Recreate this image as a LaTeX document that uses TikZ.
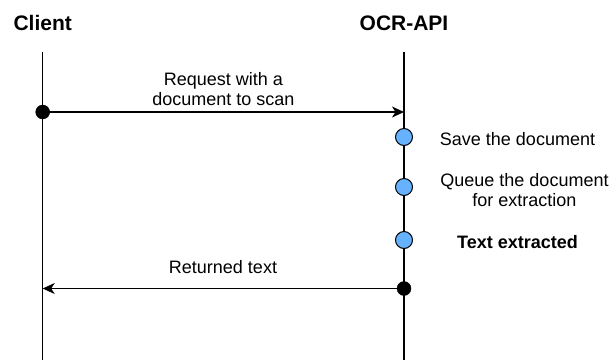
\documentclass[tikz,border=0pt]{standalone}
\usepackage{fontspec}
\setmainfont{Liberation Sans}
\usetikzlibrary{arrows.meta}
\definecolor{stepblue}{HTML}{66B2FF}
\begin{document}
\begin{tikzpicture}[x=1pt,y=-1pt,
  lifeline/.style={line width=1.2pt,black},
  msg/.style={line width=1.3pt,-{Stealth[length=12pt,width=11pt,inset=3.5pt]}},
  actor/.style={font=\fontsize{21}{24}\selectfont\bfseries,inner sep=0pt,anchor=base},
  lbl/.style={font=\fontsize{18}{19.5}\selectfont,inner sep=0pt,align=center},
  startdot/.style={circle,fill=black,draw=black,inner sep=0pt,minimum size=14pt},
  stepdot/.style={circle,fill=stepblue,draw=black,line width=1pt,inner sep=0pt,minimum size=17pt}]
  \useasboundingbox (0,0) rectangle (614,360);

  % participants
  \node[actor] (client) at (42.7,30) {Client};
  \node[actor] (ocr) at (404,30) {OCR-API};

  % lifelines
  \coordinate (cTop) at (42.7,52);
  \coordinate (cBot) at (42.7,360);
  \coordinate (oTop) at (404,52);
  \coordinate (oBot) at (404,360);
  \draw[lifeline] (cTop) -- (cBot);
  \draw[lifeline] (oTop) -- (oBot);

  % request
  \node[startdot] (reqdot) at (42.7,112) {};
  \coordinate (reqend) at (404,112);
  \draw[msg] (reqdot.center) -- (reqend);
  \node[lbl] (reqlbl) at (223.4,89) {Request with a\\document to scan};

  % processing steps
  \node[stepdot] (s1) at (404,137) {};
  \node[stepdot] (s2) at (404,187) {};
  \node[stepdot] (s3) at (404,240) {};
  \node[lbl,anchor=base] (t1) at (517.5,145) {Save the document};
  \node[lbl] (t2) at (524.5,190) {Queue the document\\for extraction};
  \node[lbl,anchor=base,font=\fontsize{18}{19.5}\selectfont\bfseries] (t3) at (517.5,248) {Text extracted};

  % response
  \node[startdot] (retdot) at (404,288.5) {};
  \coordinate (retend) at (42.7,288.5);
  \draw[msg] (retdot.center) -- (retend);
  \node[lbl,anchor=base] (retlbl) at (223,273) {Returned text};
\end{tikzpicture}
\end{document}
